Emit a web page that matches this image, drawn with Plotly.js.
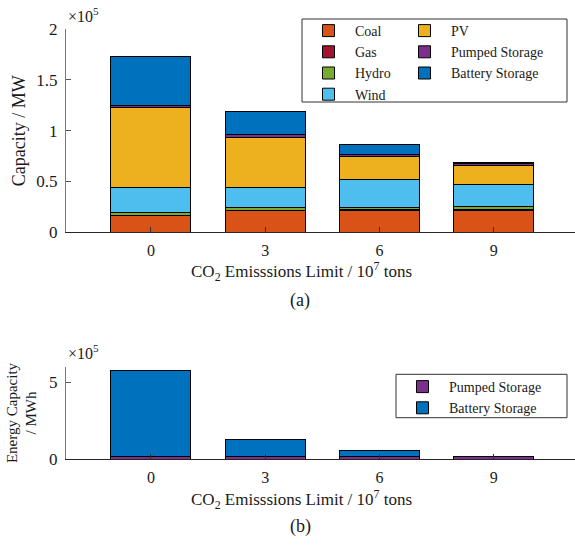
<!DOCTYPE html>
<html>
<head>
<meta charset="utf-8">
<script src="https://cdn.plot.ly/plotly-3.0.1.min.js"></script>
<style>html,body{margin:0;padding:0;background:#fff;}#chart{width:575px;height:546px;}</style>
</head>
<body>
<div id="chart"></div>
<script>
// CO2 emissions limit scenarios (10^7 tons)
const scenarios = [0, 3, 6, 9];
const tickLabels = ['0', '3', '6', '9'];

// (a) Installed capacity, MW
const coal    = [16700, 21000, 21700, 21000];
const gas     = [300, 300, 300, 1200];
const hydro   = [2800, 2800, 2800, 2800];
const wind    = [24600, 20000, 26900, 22300];
const pv      = [78000, 49200, 22600, 18000];
const pumped  = [2700, 2700, 2400, 2600];
const battery = [47800, 22600, 9200, 600];

// (b) Energy capacity, MWh
const pumpedEnergy  = [20000, 20000, 20000, 20000];
const batteryEnergy = [553000, 107000, 34000, 0];

const seriesA = [
  {name: 'Coal', values: coal, color: '#D95319', legend: 'legend'},
  {name: 'Gas', values: gas, color: '#A2142F', legend: 'legend'},
  {name: 'Hydro', values: hydro, color: '#77AC30', legend: 'legend'},
  {name: 'Wind', values: wind, color: '#4DBEEE', legend: 'legend'},
  {name: 'PV', values: pv, color: '#EDB120', legend: 'legend2'},
  {name: 'Pumped Storage', values: pumped, color: '#7E2F8E', legend: 'legend2'},
  {name: 'Battery Storage', values: battery, color: '#0072BD', legend: 'legend2'}
];
const seriesB = [
  {name: 'Pumped Storage', values: pumpedEnergy, color: '#7E2F8E'},
  {name: 'Battery Storage', values: batteryEnergy, color: '#0072BD'}
];

const W = 575, H = 546, L = 66, R = 0;
const px = v => (v - L) / (W - L - R);
const py = v => 1 - v / H;

const traces = [];
seriesA.forEach(s => traces.push({
  type: 'bar', x: scenarios, y: s.values, name: s.name, width: 2.1,
  marker: {color: s.color, line: {color: '#000', width: 1}},
  xaxis: 'x', yaxis: 'y', legend: s.legend
}));
seriesB.forEach(s => traces.push({
  type: 'bar', x: scenarios, y: s.values, name: s.name, width: 2.1,
  marker: {color: s.color, line: {color: '#000', width: 1}},
  xaxis: 'x2', yaxis: 'y2', legend: 'legend3'
}));

const FAM = "'Liberation Serif', 'DejaVu Serif', serif";
const TXT = '#1a1a1a';
const xr = [-2.23, 11.13];
const xCommon = {
  range: xr, tickvals: scenarios, ticktext: tickLabels, ticks: 'inside', ticklen: 5,
  tickcolor: '#333', showline: true, linecolor: '#262626', linewidth: 1,
  showgrid: false, zeroline: false, tickfont: {size: 16, family: FAM, color: TXT}, ticklabelstandoff: 3
};
const yCommon = {
  ticks: 'inside', ticklen: 5, tickcolor: '#555', showline: true, linecolor: '#777',
  linewidth: 1, showgrid: false, zeroline: false, tickfont: {size: 17, family: FAM, color: TXT}, ticklabelstandoff: 4
};
const legendCommon = {
  orientation: 'v', bgcolor: 'rgba(0,0,0,0)', borderwidth: 0, itemwidth: 43,
  font: {size: 14, family: FAM, color: TXT}, xanchor: 'left', yanchor: 'top',
  traceorder: 'normal', itemclick: false
};

const layout = {
  width: W, height: H,
  margin: {l: L, r: R, t: 0, b: 0},
  paper_bgcolor: '#fff', plot_bgcolor: '#fff',
  font: {family: FAM, color: TXT}, barmode: 'stack', bargap: 0,
  showlegend: true,
  xaxis: Object.assign({}, xCommon, {anchor: 'y', domain: [0, 1]}),
  yaxis: Object.assign({}, yCommon, {
    anchor: 'x', domain: [py(232.3), py(29)], range: [0, 200000],
    tickvals: [0, 50000, 100000, 150000, 200000], ticktext: ['0', '0.5', '1', '1.5', '2'],
    title: {text: 'Capacity / MW', font: {size: 18, family: FAM, color: TXT}, standoff: 6}
  }),
  xaxis2: Object.assign({}, xCommon, {anchor: 'y2', domain: [0, 1]}),
  yaxis2: Object.assign({}, yCommon, {
    anchor: 'x2', domain: [py(459.3), py(366.7)], range: [0, 600000],
    tickvals: [0, 500000], ticktext: ['0', '5'],
    title: {text: 'Energy Capacity<br>/ MWh', font: {size: 15, family: FAM, color: TXT}, standoff: 8}
  }),
  legend: Object.assign({}, legendCommon, {x: px(302), y: py(15)}),
  legend2: Object.assign({}, legendCommon, {x: px(398), y: py(15)}),
  legend3: Object.assign({}, legendCommon, {x: px(396), y: py(371)}),
  shapes: [
    {type: 'rect', xref: 'paper', yref: 'paper', x0: px(302), x1: px(567), y0: py(102), y1: py(19),
     line: {color: '#333', width: 1}, fillcolor: 'rgba(0,0,0,0)'},
    {type: 'rect', xref: 'paper', yref: 'paper', x0: px(396), x1: px(567), y0: py(417.7), y1: py(374.3),
     line: {color: '#333', width: 1}, fillcolor: 'rgba(0,0,0,0)'}
  ],
  annotations: [
    {text: '×10<sup>5</sup>', xref: 'paper', yref: 'paper', x: 0, y: py(15), xanchor: 'left', yanchor: 'middle', showarrow: false, font: {size: 16, family: FAM, color: TXT}},
    {text: '×10<sup>5</sup>', xref: 'paper', yref: 'paper', x: 0, y: py(352), xanchor: 'left', yanchor: 'middle', showarrow: false, font: {size: 16, family: FAM, color: TXT}},
    {text: 'CO<sub>2</sub> Emisssions Limit / 10<sup>7</sup> tons', xref: 'paper', yref: 'paper', x: px(301), y: py(271), xanchor: 'center', yanchor: 'middle', showarrow: false, font: {size: 17, family: FAM, color: TXT}},
    {text: '(a)', xref: 'paper', yref: 'paper', x: px(300), y: py(300), xanchor: 'center', yanchor: 'middle', showarrow: false, font: {size: 18, family: FAM, color: TXT}},
    {text: 'CO<sub>2</sub> Emisssions Limit / 10<sup>7</sup> tons', xref: 'paper', yref: 'paper', x: px(301), y: py(499), xanchor: 'center', yanchor: 'middle', showarrow: false, font: {size: 17, family: FAM, color: TXT}},
    {text: '(b)', xref: 'paper', yref: 'paper', x: px(300), y: py(526), xanchor: 'center', yanchor: 'middle', showarrow: false, font: {size: 18, family: FAM, color: TXT}}
  ]
};

Plotly.newPlot('chart', traces, layout, {staticPlot: true, displayModeBar: false});
</script>
</body>
</html>
